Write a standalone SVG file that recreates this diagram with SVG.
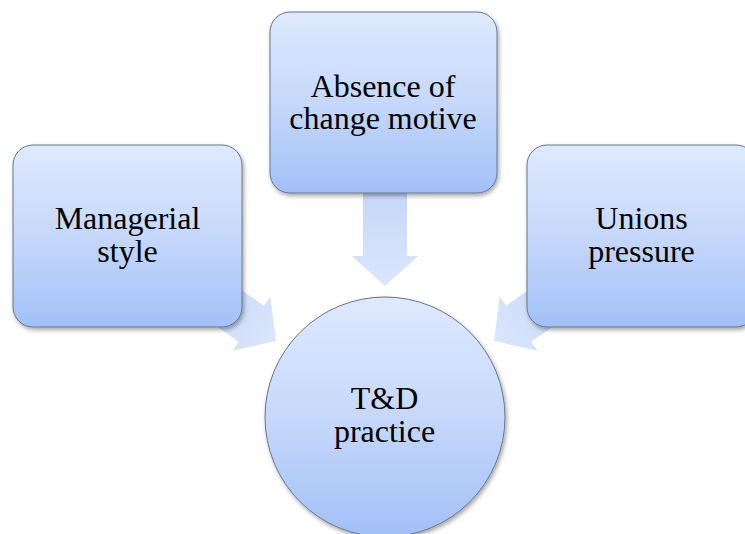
<svg xmlns="http://www.w3.org/2000/svg" width="745" height="534" viewBox="0 0 745 534">
  <defs>
    <linearGradient id="nodeFill" x1="0" y1="0" x2="0" y2="1">
      <stop offset="0" stop-color="#dfe9fd"/>
      <stop offset="0.5" stop-color="#c6d8fb"/>
      <stop offset="1" stop-color="#a2c0f7"/>
    </linearGradient>
    <linearGradient id="arrowFill" x1="0" y1="0" x2="1" y2="0">
      <stop offset="0" stop-color="#c3d4f5"/>
      <stop offset="1" stop-color="#dbe6fc"/>
    </linearGradient>
    <filter id="shadow" x="-10%" y="-10%" width="125%" height="125%">
      <feDropShadow dx="1.5" dy="2.5" stdDeviation="2" flood-color="#000" flood-opacity="0.35"/>
    </filter>
    <path id="arrow" d="M -110,-22 L -30,-22 L -30,-33 L 0,0 L -30,33 L -30,22 L -110,22 Z"/>
  </defs>
  <style>
    .node { fill: url(#nodeFill); stroke: #66768c; stroke-width: 1; filter: url(#shadow); }
    .arrow { fill: url(#arrowFill); stroke: none; }
    .label { font-size: 32px; fill: #000; text-anchor: middle; }
  </style>

  <g id="connectors">
    <use href="#arrow" class="arrow" transform="translate(385,286) rotate(90)"/>
    <use href="#arrow" class="arrow" transform="translate(276,341) rotate(35)"/>
    <use href="#arrow" class="arrow" transform="translate(494,341) rotate(145)"/>
  </g>

  <g id="nodes" font-family="'Liberation Serif', 'Times New Roman', Times, serif">
    <g id="node-absence">
      <rect class="node" x="270" y="12" width="227" height="181" rx="20" ry="20"/>
      <text class="label" x="383" y="97">Absence of</text>
      <text class="label" x="383" y="128.5">change motive</text>
    </g>

    <g id="node-managerial">
      <rect class="node" x="13" y="145" width="229" height="182" rx="20" ry="20"/>
      <text class="label" x="127.5" y="229">Managerial</text>
      <text class="label" x="127.5" y="261.5">style</text>
    </g>

    <g id="node-unions">
      <rect class="node" x="527" y="145" width="229" height="182" rx="20" ry="20"/>
      <text class="label" x="641.5" y="229">Unions</text>
      <text class="label" x="641.5" y="261.5">pressure</text>
    </g>

    <g id="node-practice">
      <circle class="node" cx="385" cy="417" r="120"/>
      <text class="label" x="384.5" y="409">T&amp;D</text>
      <text class="label" x="384.5" y="441.5">practice</text>
    </g>
  </g>
</svg>
